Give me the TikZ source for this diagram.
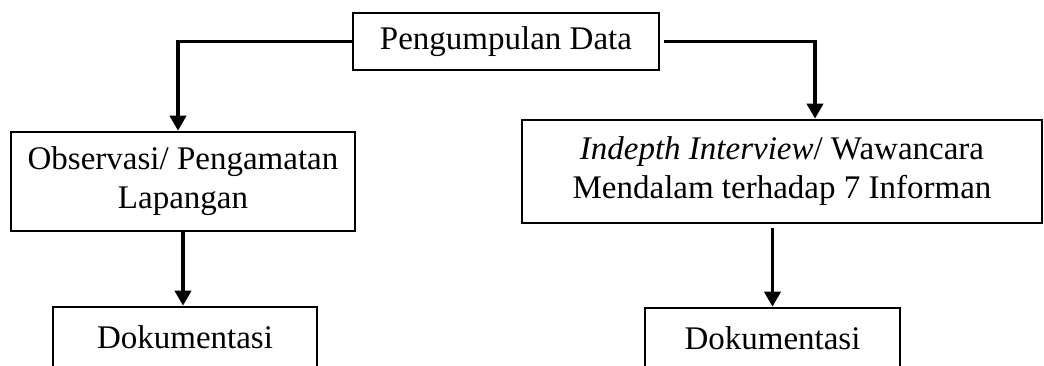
\documentclass[tikz,border=0pt]{standalone}
\usepackage{fontspec}
\setmainfont{Liberation Serif}
\usetikzlibrary{arrows.meta}

\tikzset{
  kotak/.style={draw, line width=1.3pt, align=center, inner sep=0pt, font=\fontsize{16.5}{19.5}\selectfont},
  panah/.style={line width=1.8pt, -{Triangle[width=8pt,length=7.5pt]}}
}

\begin{document}
\begin{tikzpicture}[x=0.5pt, y=-0.5pt]
\useasboundingbox (0,0) rectangle (1044,365);

\node[kotak, minimum width=153pt, minimum height=28.5pt] (data) at (506,41.5) {Pengumpulan Data};
\node[kotak, minimum width=172pt, minimum height=49.5pt] (obs) at (183,181.5) {Observasi/ Pengamatan\\Lapangan};
\node[kotak, minimum width=260pt, minimum height=51.5pt] (wwc) at (782,171.5) {\textit{Indepth Interview}/ Wawancara\\Mendalam terhadap 7 Informan};
\node[kotak, minimum width=132pt, minimum height=30pt] (dok1) at (185,337) {Dokumentasi};
\node[kotak, minimum width=127.5pt, minimum height=30pt] (dok2) at (772.5,338) {Dokumentasi};

% cabang ke kiri dan ke kanan
\draw[panah] (data.west) -| ([xshift=-2.5pt]obs.north);
\draw[panah, shorten <=2pt] (data.east) -| ([xshift=16.5pt]wwc.north);

% ke dokumentasi
\draw[panah] (obs.south) -- (obs.south |- dok1.north);
\draw[panah, shorten <=2pt] (dok2.north |- wwc.south) -- (dok2.north);
\end{tikzpicture}
\end{document}
